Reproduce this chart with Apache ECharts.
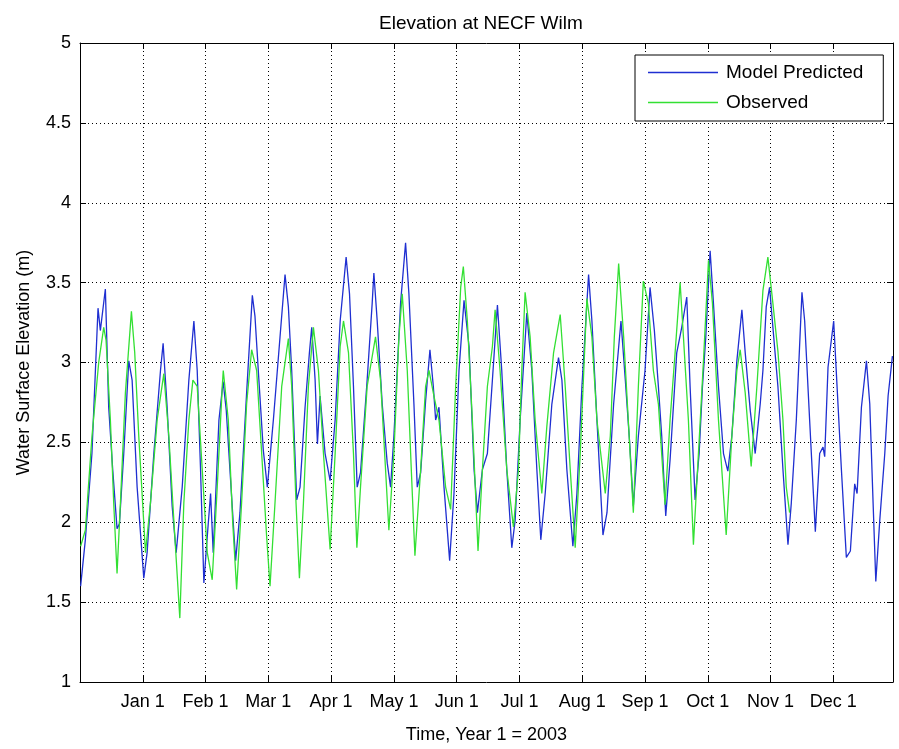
<!DOCTYPE html>
<html>
<head>
<meta charset="utf-8">
<script src="https://cdn.jsdelivr.net/npm/echarts@6/dist/echarts.min.js"></script>
<style>html,body{margin:0;padding:0;background:#fff}#main{width:899px;height:749px}</style>
</head>
<body>
<div id="main"></div>
<script>
// x values are in months after Jan 1, 2003 (0 = Jan 1, 1 = Feb 1, ...)
const monthLabels = ['Dec 1','Jan 1','Feb 1','Mar 1','Apr 1','May 1','Jun 1','Jul 1','Aug 1','Sep 1','Oct 1','Nov 1','Dec 1'];
const yTicks = [1, 1.5, 2, 2.5, 3, 3.5, 4, 4.5, 5];

const modelTime = [-0.99,-0.915,-0.81,-0.713,-0.676,-0.596,-0.543,-0.479,-0.41,-0.372,-0.303,-0.223,-0.17,-0.09,0.016,0.069,0.176,0.282,0.324,0.388,0.468,0.532,0.628,0.734,0.814,0.867,0.92,0.973,1.027,1.08,1.122,1.213,1.28,1.33,1.388,1.479,1.548,1.654,1.745,1.787,1.84,1.92,1.984,2.08,2.186,2.266,2.319,2.372,2.452,2.505,2.585,2.654,2.691,2.745,2.782,2.824,2.904,2.984,3.064,3.144,3.239,3.293,3.356,3.415,3.468,3.574,3.654,3.681,3.734,3.814,3.894,3.947,4.0,4.106,4.186,4.239,4.319,4.372,4.426,4.505,4.574,4.628,4.665,4.718,4.798,4.888,4.957,5.037,5.117,5.197,5.277,5.33,5.41,5.489,5.569,5.649,5.718,5.798,5.878,5.931,6.011,6.117,6.197,6.277,6.34,6.41,6.516,6.622,6.676,6.755,6.851,6.915,6.995,7.101,7.154,7.234,7.33,7.394,7.5,7.617,7.686,7.755,7.814,7.894,8.0,8.08,8.149,8.213,8.266,8.33,8.399,8.505,8.585,8.665,8.718,8.798,8.862,8.915,8.968,9.037,9.09,9.17,9.25,9.319,9.383,9.463,9.543,9.596,9.676,9.755,9.835,9.878,9.931,9.984,10.037,10.117,10.197,10.277,10.33,10.41,10.5,10.543,10.622,10.713,10.782,10.835,10.862,10.915,11.005,11.059,11.128,11.207,11.271,11.34,11.378,11.447,11.527,11.58,11.633,11.676,11.739,11.819,11.872,11.941];
const modelElev = [1.6,1.89,2.43,3.34,3.2,3.46,2.72,2.33,1.96,1.99,2.43,3.01,2.89,2.22,1.65,1.81,2.43,2.95,3.12,2.72,2.1,1.81,2.22,2.89,3.26,2.95,2.33,1.62,1.91,2.18,1.81,2.64,2.88,2.7,2.33,1.76,2.06,2.81,3.42,3.29,2.95,2.45,2.22,2.64,3.16,3.55,3.35,2.95,2.14,2.22,2.72,3.06,3.22,2.89,2.49,2.79,2.43,2.26,2.64,3.26,3.66,3.43,2.85,2.22,2.31,2.89,3.37,3.56,3.26,2.74,2.37,2.22,2.54,3.37,3.75,3.43,2.74,2.22,2.31,2.76,3.08,2.85,2.64,2.72,2.22,1.76,2.18,2.95,3.39,3.1,2.33,2.06,2.33,2.43,2.89,3.36,2.95,2.33,1.84,2.01,2.64,3.31,2.95,2.33,1.89,2.18,2.74,3.03,2.89,2.33,1.85,2.18,2.85,3.55,3.26,2.64,1.92,2.06,2.74,3.26,2.89,2.5,2.1,2.54,2.95,3.47,3.2,2.85,2.54,2.04,2.39,3.06,3.22,3.41,2.85,2.14,2.43,2.85,3.16,3.7,3.37,2.85,2.43,2.32,2.54,3.01,3.33,3.06,2.7,2.43,2.74,2.95,3.35,3.47,3.22,2.85,2.33,1.86,2.12,2.64,3.44,3.26,2.64,1.94,2.43,2.47,2.41,2.97,3.26,2.85,2.33,1.78,1.82,2.24,2.18,2.72,3.01,2.74,2.12,1.63,2.01,2.43,2.79,3.04];

const obsTime = [-0.99,-0.915,-0.809,-0.702,-0.622,-0.585,-0.516,-0.463,-0.41,-0.356,-0.277,-0.181,-0.128,-0.064,0.043,0.122,0.229,0.335,0.415,0.495,0.59,0.654,0.734,0.798,0.867,0.947,1.027,1.106,1.186,1.266,1.282,1.362,1.431,1.495,1.574,1.654,1.734,1.814,1.894,1.973,2.027,2.106,2.213,2.319,2.372,2.441,2.495,2.559,2.638,2.718,2.798,2.878,2.984,3.064,3.144,3.197,3.277,3.356,3.41,3.468,3.574,3.707,3.787,3.867,3.92,4.0,4.08,4.133,4.213,4.277,4.335,4.426,4.505,4.559,4.638,4.718,4.824,4.904,4.984,5.064,5.106,5.17,5.25,5.34,5.41,5.489,5.569,5.612,5.691,5.798,5.904,5.984,6.037,6.09,6.17,6.25,6.356,6.436,6.543,6.649,6.729,6.809,6.888,6.968,7.074,7.154,7.234,7.367,7.447,7.511,7.58,7.66,7.739,7.814,7.894,7.973,8.053,8.133,8.213,8.319,8.399,8.479,8.559,8.612,8.691,8.771,8.851,8.931,9.011,9.074,9.17,9.293,9.383,9.463,9.516,9.596,9.691,9.782,9.878,9.957,10.037,10.117,10.197,10.25,10.303];
const obsElev = [1.85,1.95,2.54,3.0,3.22,3.14,2.64,2.12,1.68,2.12,2.81,3.32,3.06,2.54,1.81,2.12,2.64,2.93,2.54,2.01,1.4,2.12,2.64,2.89,2.85,2.33,1.81,1.64,2.22,2.85,2.95,2.64,2.01,1.58,2.12,2.74,3.08,2.95,2.43,1.91,1.6,2.12,2.85,3.15,2.85,2.12,1.65,2.12,2.85,3.22,2.95,2.43,1.83,2.43,3.1,3.26,3.06,2.43,1.84,2.22,2.85,3.16,2.89,2.33,1.95,2.43,3.16,3.43,2.95,2.33,1.79,2.33,2.85,2.95,2.79,2.64,2.22,2.08,2.85,3.47,3.6,3.26,2.64,1.82,2.33,2.85,3.1,3.33,2.95,2.33,1.97,2.33,2.95,3.44,3.16,2.64,2.18,2.6,3.06,3.3,2.85,2.33,1.84,2.43,3.4,3.16,2.64,2.18,2.54,3.16,3.62,3.16,2.6,2.06,2.85,3.51,3.37,2.95,2.74,2.11,2.64,3.06,3.5,3.16,2.64,1.86,2.43,3.01,3.64,3.37,2.64,1.92,2.54,2.95,3.08,2.81,2.35,2.85,3.45,3.66,3.37,3.07,2.64,2.22,2.06];

const FONT = "'Liberation Sans', Arial, Helvetica, sans-serif";
const BLUE = '#1f2fd1', GREEN = '#33e033';
const zip = (t, v) => t.map((x, i) => [x, v[i]]);

const chart = echarts.init(document.getElementById('main'), null, {renderer: 'canvas'});
const baseX = {
  type: 'value', min: -1, max: 11.95, interval: 1,
  axisLine: {show: true, onZero: false, lineStyle: {color: '#000', width: 1}},
  axisTick: {show: true, inside: true, length: 6, lineStyle: {color: '#000'}},
};
const baseY = {
  type: 'value', min: yTicks[0], max: yTicks[yTicks.length - 1], interval: 0.5,
  axisLine: {show: true, onZero: false, lineStyle: {color: '#000', width: 1}},
  axisTick: {show: true, inside: true, length: 6, lineStyle: {color: '#000'}},
};
chart.setOption({
  animation: false,
  backgroundColor: '#fff',
  title: {
    text: 'Elevation at NECF Wilm', left: 374, top: 9,
    textStyle: {fontFamily: FONT, fontSize: 19, fontWeight: 'normal', color: '#000'}
  },
  grid: {left: 80, top: 43, right: 6, bottom: 65, containLabel: false},
  legend: {
    data: [
      {name: 'Model Predicted', icon: 'rect', itemStyle: {color: BLUE}},
      {name: 'Observed', icon: 'rect', itemStyle: {color: GREEN}}
    ],
    orient: 'vertical', left: 635, top: 55,
    itemWidth: 70, itemHeight: 1.3, itemGap: 11,
    padding: [8, 20, 9, 13],
    borderColor: '#000', borderWidth: 1, backgroundColor: '#fff', borderRadius: 0,
    textStyle: {fontFamily: FONT, fontSize: 19, color: '#000', padding: [0, 0, 0, 3]}
  },
  xAxis: [
    Object.assign({}, baseX, {
      position: 'bottom',
      name: 'Time, Year 1 = 2003', nameLocation: 'middle', nameGap: 44,
      nameTextStyle: {fontFamily: FONT, fontSize: 18, color: '#000'},
      axisLabel: {
        margin: 11, fontFamily: FONT, fontSize: 18, color: '#000', showMaxLabel: false,
        formatter: v => { const k = Math.round(v); return k < 0 ? '' : monthLabels[k + 1]; }
      },
      splitLine: {show: true, lineStyle: {color: '#000', type: [1, 3], width: 1}}
    }),
    Object.assign({}, baseX, {
      position: 'top', axisLabel: {show: false}, splitLine: {show: false}
    })
  ],
  yAxis: [
    Object.assign({}, baseY, {
      position: 'left',
      name: 'Water Surface Elevation (m)', nameLocation: 'middle', nameGap: 47,
      nameTextStyle: {fontFamily: FONT, fontSize: 18, color: '#000'},
      axisLabel: {margin: 9, fontFamily: FONT, fontSize: 18, color: '#000', formatter: v => String(v)},
      splitLine: {show: true, lineStyle: {color: '#000', type: [1, 3], width: 1}}
    }),
    Object.assign({}, baseY, {
      position: 'right', axisLabel: {show: false}, splitLine: {show: false}
    })
  ],
  series: [
    {
      name: 'Model Predicted', type: 'line', xAxisIndex: 0, yAxisIndex: 0,
      symbol: 'none', showSymbol: false, smooth: false, clip: true,
      lineStyle: {color: BLUE, width: 1.3},
      itemStyle: {color: BLUE},
      data: zip(modelTime, modelElev), z: 2
    },
    {
      name: 'Observed', type: 'line', xAxisIndex: 0, yAxisIndex: 0,
      symbol: 'none', showSymbol: false, smooth: false, clip: true,
      lineStyle: {color: GREEN, width: 1.3},
      itemStyle: {color: GREEN},
      data: zip(obsTime, obsElev), z: 3
    }
  ]
});
</script>
</body>
</html>
